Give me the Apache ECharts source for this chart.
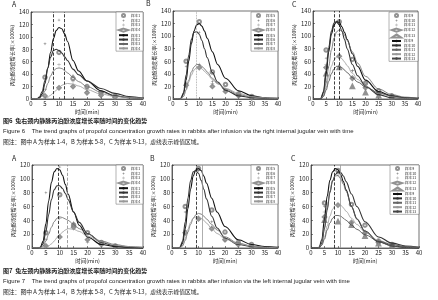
<!DOCTYPE html>
<html>
<head>
<meta charset="utf-8">
<script src="https://cdn.jsdelivr.net/npm/echarts@6/dist/echarts.min.js"></script>
<style>
  html, body { margin: 0; padding: 0; background: #fff; }
  #chart-container { width: 438px; height: 300px; }
</style>
</head>
<body>
<div id="chart-container"></div>
<script>
var fitTimes = [0, 2, 3, 4, 5, 6, 7, 8, 9, 10, 11, 12, 13, 15, 17, 20, 25, 30, 35, 40];

// Figure 6 (right jugular vein) - fitted curves
var f6A1 = [0, 0, 2, 8, 25, 50, 75, 97, 110, 115, 113, 105, 93, 62, 45, 29, 13, 5, 2, 1];
var f6A2 = [0, 0, 3, 12, 30, 50, 67, 78, 80, 78, 74, 68, 62, 48, 39, 29, 17, 9, 4, 1];
var f6A3 = [0, 0, 1, 5, 13, 25, 37, 45, 49, 50, 49, 46, 42, 35, 28, 20, 11, 5, 2, 1];
var f6A4 = [0, 0, 0, 0, 1, 3, 6, 10, 14, 18, 22, 24, 25, 24, 21, 15, 8, 4, 2, 1];
var f6B1 = [0, 0, 1, 8, 30, 60, 88, 108, 118, 120, 116, 108, 97, 75, 55, 33, 13, 5, 2, 1];
var f6B2 = [0, 0, 1, 10, 38, 70, 95, 106, 107, 103, 93, 80, 66, 42, 27, 14, 5, 2, 1, 0];
var f6B3 = [0, 0, 0, 4, 15, 30, 43, 51, 55, 55, 52, 48, 43, 33, 25, 16, 7, 3, 1, 0];
var f6B4 = [0, 0, 0, 4, 14, 27, 38, 46, 50, 50, 48, 44, 40, 31, 24, 17, 9, 4, 2, 1];
var f6C1 = [0, 0, 1, 10, 40, 75, 103, 118, 123, 122, 115, 106, 95, 72, 52, 30, 12, 5, 2, 1];
var f6C2 = [0, 0, 1, 12, 45, 82, 108, 121, 123, 118, 108, 95, 80, 55, 37, 20, 7, 2, 1, 0];
var f6C3 = [0, 0, 0, 6, 25, 52, 78, 97, 107, 110, 108, 102, 93, 75, 57, 36, 16, 7, 3, 1];
var f6C4 = [0, 0, 0, 5, 18, 36, 52, 62, 67, 67, 64, 59, 53, 41, 31, 20, 9, 4, 1, 0];
var f6C5 = [0, 0, 0, 4, 14, 28, 40, 48, 52, 52, 50, 46, 42, 34, 27, 19, 10, 5, 2, 1];

// Figure 7 (left jugular vein) - fitted curves
var f7A1 = [0, 0, 1, 10, 35, 68, 95, 110, 115, 113, 105, 92, 78, 52, 33, 16, 5, 2, 1, 0];
var f7A2 = [0, 0, 1, 6, 24, 48, 70, 84, 90, 90, 86, 79, 70, 52, 37, 21, 8, 3, 1, 0];
var f7A3 = [0, 0, 0, 3, 10, 20, 30, 38, 43, 45, 44, 42, 40, 34, 28, 20, 10, 5, 2, 1];
var f7A4 = [0, 0, 0, 0, 1, 3, 6, 10, 15, 19, 23, 26, 28, 27, 24, 17, 9, 4, 2, 1];
var f7B1 = [0, 0, 1, 7, 28, 57, 85, 104, 113, 115, 112, 104, 94, 72, 52, 31, 12, 5, 2, 1];
var f7B2 = [0, 0, 1, 10, 38, 72, 97, 110, 112, 108, 98, 85, 71, 46, 29, 14, 5, 2, 1, 0];
var f7B3 = [0, 0, 0, 3, 11, 23, 34, 43, 48, 50, 49, 46, 42, 34, 26, 16, 7, 3, 1, 0];
var f7B4 = [0, 0, 0, 4, 14, 27, 37, 43, 45, 45, 43, 40, 36, 28, 21, 13, 6, 3, 1, 0];
var f7C1 = [0, 0, 1, 12, 42, 75, 98, 110, 115, 113, 106, 96, 84, 60, 42, 24, 9, 3, 1, 0];
var f7C2 = [0, 0, 1, 7, 28, 55, 80, 97, 106, 110, 109, 104, 96, 78, 60, 38, 16, 7, 3, 1];
var f7C3 = [0, 0, 1, 8, 30, 58, 82, 98, 104, 105, 100, 92, 82, 60, 42, 24, 9, 3, 1, 0];
var f7C4 = [0, 0, 0, 5, 16, 32, 46, 56, 62, 63, 62, 58, 53, 43, 34, 23, 11, 5, 2, 1];
var f7C5 = [0, 0, 0, 4, 13, 26, 36, 43, 47, 47, 46, 43, 40, 33, 27, 19, 10, 5, 2, 1];

// measured points [time, growth rate]
var p6A1 = [[5, 35], [10, 75], [15, 33], [20, 20], [25, 10], [30, 5]];
var p6A2 = [[5, 89], [10, 127], [15, 38], [20, 12], [25, 5], [30, 3]];
var p6A3 = [[5, 15], [10, 55], [15, 28], [20, 16], [25, 8], [30, 4]];
var p6A4 = [[5, 5], [10, 18], [15, 20], [20, 10], [25, 6], [30, 3]];
var p6B1 = [[5, 60], [10, 123], [15, 43], [20, 23], [25, 8], [30, 4]];
var p6B2 = [[5, 52], [10, 106], [15, 28], [20, 12], [25, 5], [30, 3]];
var p6B3 = [[5, 25], [10, 55], [15, 25], [20, 14], [25, 6], [30, 3]];
var p6B4 = [[5, 22], [10, 50], [15, 20], [20, 12], [25, 5], [30, 2]];
var p6C1 = [[5, 78], [10, 123], [15, 63], [20, 25], [25, 13], [30, 5]];
var p6C2 = [[5, 65], [9, 123], [15, 45], [20, 18], [25, 8], [30, 3]];
var p6C3 = [[5, 55], [10, 103], [15, 45], [20, 25], [25, 10], [30, 5]];
var p6C4 = [[5, 50], [10, 68], [15, 33], [20, 18], [25, 8], [30, 3]];
var p6C5 = [[5, 40], [10, 50], [15, 20], [20, 10], [25, 5], [30, 3]];
var p7A1 = [[5, 22], [10, 77], [15, 33], [20, 22], [25, 8], [30, 3]];
var p7A2 = [[5, 80], [10, 117], [15, 37], [20, 13], [25, 5], [30, 2]];
var p7A3 = [[5, 12], [10, 43], [15, 35], [20, 8], [25, 6], [30, 3]];
var p7A4 = [[5, 3], [10, 16], [15, 30], [20, 12], [25, 5], [30, 2]];
var p7B1 = [[5, 60], [10, 115], [15, 55], [20, 23], [25, 8], [30, 5]];
var p7B2 = [[5, 52], [10, 112], [15, 38], [20, 13], [25, 5], [30, 3]];
var p7B3 = [[5, 25], [10, 45], [15, 30], [20, 10], [25, 6], [30, 3]];
var p7B4 = [[5, 22], [10, 42], [15, 28], [20, 12], [25, 5], [30, 2]];
var p7C1 = [[5, 65], [10, 112], [15, 63], [20, 33], [25, 10], [30, 5]];
var p7C2 = [[5, 60], [10, 108], [15, 37], [20, 22], [25, 8], [30, 3]];
var p7C3 = [[5, 52], [10, 105], [15, 33], [20, 17], [25, 10], [30, 5]];
var p7C4 = [[5, 45], [10, 62], [15, 37], [20, 22], [25, 8], [30, 3]];
var p7C5 = [[5, 40], [10, 38], [15, 33], [20, 17], [25, 6], [30, 3]];

// sample names per panel
var namesA = ['样本1', '样本2', '样本3', '样本4'];
var namesB = ['样本5', '样本6', '样本7', '样本8'];
var namesC = ['样本9', '样本10', '样本11', '样本12', '样本13'];

// peak region (dashed lines), in min
var peaks6A = [8, 12];
var peaks6B = [9];
var peaks6C = [8, 10];
var peaks7A = [9.3, 12.7];
var peaks7B = [9, 11.5];
var peaks7C = [8.6, 10.7];

var yName = '丙泊酚浓度增长率(×100%)';
var xName = '时间(min)';

var markers = [
  'emptyCircle',
  'path://M0,-1L0.25,-0.25L1,0L0.25,0.25L0,1L-0.25,0.25L-1,0L-0.25,-0.25Z',
  'path://M-0.12,-1H0.12V-0.12H1V0.12H0.12V1H-0.12V0.12H-1V-0.12H-0.12Z',
  'emptyDiamond',
  'emptyTriangle'
];
var lineColors = ['#111', '#333', '#666', '#999', '#444'];

var panels = [
  { grid: { left: 31, top: 12, width: 112, height: 87 }, yMax: 140, names: namesA,
    fits: [f6A1, f6A2, f6A3, f6A4], pts: [p6A1, p6A2, p6A3, p6A4], peaks: peaks6A,
    peakStyle: [['#111', 'dashed'], ['#111', 'dashed']], legendPos: { right: 295, top: 12 } },
  { grid: { left: 173, top: 11, width: 105, height: 88 }, yMax: 140, names: namesB,
    fits: [f6B1, f6B2, f6B3, f6B4], pts: [p6B1, p6B2, p6B3, p6B4], peaks: peaks6B,
    peakStyle: [['#999', 'dotted']], legendPos: { right: 160, top: 12 } },
  { grid: { left: 313, top: 11, width: 105, height: 88 }, yMax: 140, names: namesC,
    fits: [f6C1, f6C2, f6C3, f6C4, f6C5], pts: [p6C1, p6C2, p6C3, p6C4, p6C5], peaks: peaks6C,
    peakStyle: [['#111', 'dashed'], ['#111', 'dashed']], legendPos: { right: 20, top: 12 } },
  { grid: { left: 32, top: 165, width: 111, height: 83 }, yMax: 120, names: namesA,
    fits: [f7A1, f7A2, f7A3, f7A4], pts: [p7A1, p7A2, p7A3, p7A4], peaks: peaks7A,
    peakStyle: [['#111', 'dashed'], ['#888', 'dashed']], legendPos: { right: 295, top: 165 } },
  { grid: { left: 172, top: 165, width: 106, height: 83 }, yMax: 120, names: namesB,
    fits: [f7B1, f7B2, f7B3, f7B4], pts: [p7B1, p7B2, p7B3, p7B4], peaks: peaks7B,
    peakStyle: [['#111', 'dashed'], ['#999', 'solid']], legendPos: { right: 160, top: 165 } },
  { grid: { left: 311, top: 165, width: 108, height: 83 }, yMax: 120, names: namesC,
    fits: [f7C1, f7C2, f7C3, f7C4, f7C5], pts: [p7C1, p7C2, p7C3, p7C4, p7C5], peaks: peaks7C,
    peakStyle: [['#111', 'dashed'], ['#999', 'solid']], legendPos: { right: 19, top: 165 } }
];

var grids = [], xAxes = [], yAxes = [], series = [], legends = [];

panels.forEach(function (p, i) {
  grids.push(Object.assign({ show: true, borderColor: '#333', borderWidth: 0.7 }, p.grid));
  xAxes.push({
    gridIndex: i, type: 'value', min: 0, max: 40, interval: 5,
    name: xName, nameLocation: 'middle', nameGap: 10,
    nameTextStyle: { fontSize: 5.5, color: '#222' },
    axisLine: { lineStyle: { color: '#333', width: 0.7 } },
    axisTick: { inside: true, length: 2, lineStyle: { color: '#333', width: 0.6 } },
    axisLabel: { fontSize: 6, color: '#222', margin: 2 },
    splitLine: { show: false }
  });
  yAxes.push({
    gridIndex: i, type: 'value', min: 0, max: p.yMax, interval: 20,
    name: yName, nameLocation: 'middle', nameGap: 16, nameRotate: 90,
    nameTextStyle: { fontSize: 5, color: '#222' },
    axisLine: { lineStyle: { color: '#333', width: 0.7 } },
    axisTick: { inside: true, length: 2, lineStyle: { color: '#333', width: 0.6 } },
    axisLabel: { fontSize: 6, color: '#222', margin: 2 },
    splitLine: { show: false }
  });

  var legendNames = [];
  p.pts.forEach(function (arr, k) {
    legendNames.push(p.names[k]);
    series.push({
      type: 'scatter', name: p.names[k], xAxisIndex: i, yAxisIndex: i,
      data: arr, symbol: markers[k % markers.length], symbolSize: 3.5,
      itemStyle: { color: '#777', borderWidth: 0.6 }, silent: true
    });
  });
  p.fits.forEach(function (arr, k) {
    legendNames.push(p.names[k] + ' ');
    series.push({
      type: 'line', name: p.names[k] + ' ', xAxisIndex: i, yAxisIndex: i,
      data: fitTimes.map(function (t, j) { return [t, arr[j]]; }),
      smooth: 0.35, smoothMonotone: 'x', symbol: 'none', showSymbol: false,
      lineStyle: { color: lineColors[k], width: k < 2 ? 1.1 : 0.8 },
      itemStyle: { color: lineColors[k] }, silent: true
    });
  });
  series.push({
    type: 'line', xAxisIndex: i, yAxisIndex: i, data: [], silent: true,
    markLine: {
      symbol: 'none', silent: true, animation: false, label: { show: false },
      data: p.peaks.map(function (x, k) {
        return { xAxis: x, lineStyle: { color: p.peakStyle[k][0], type: p.peakStyle[k][1], width: 0.8 } };
      })
    }
  });

  legends.push(Object.assign({
    orient: 'vertical', data: legendNames, padding: [1, 2, 1, 2], itemGap: 0.8,
    itemWidth: 9, itemHeight: 3, selectedMode: false,
    backgroundColor: '#fff', borderColor: '#666', borderWidth: 0.5,
    textStyle: { fontSize: 3.6, color: '#333', padding: [0, 0, 0, -2] }
  }, p.legendPos));
});

function txt(x, y, s, size, extra) {
  return {
    type: 'text', left: x, top: y,
    style: Object.assign({ text: s, fontSize: size, fill: '#222', fontFamily: 'Noto Sans CJK SC, sans-serif' }, extra || {})
  };
}

var graphics = [
  txt(12, 1, 'A', 7), txt(146, 0, 'B', 7), txt(292, 1, 'C', 7),
  txt(12, 155, 'A', 7), txt(150, 155, 'B', 7), txt(291, 155, 'C', 7),
  txt(3, 118, '图6  兔右颈内静脉丙泊酚浓度增长率随时间的变化趋势', 6, { fontWeight: 'bold' }),
  txt(3, 128, 'Figure 6    The trend graphs of propofol concentration growth rates in rabbits after infusion via the right internal jugular vein with time', 6, { fontFamily: 'Liberation Sans, Arial, sans-serif' }),
  txt(3, 139, '图注：图中 A 为样本 1-4，B 为样本 5-8，C 为样本 9-13，虚线表示峰值区域。', 5.8),
  txt(3, 268, '图7  兔左颈内静脉丙泊酚浓度增长率随时间的变化趋势', 6, { fontWeight: 'bold' }),
  txt(3, 278, 'Figure 7    The trend graphs of propofol concentration growth rates in rabbits after infusion via the left internal jugular vein with time', 6, { fontFamily: 'Liberation Sans, Arial, sans-serif' }),
  txt(3, 289, '图注：图中 A 为样本 1-4，B 为样本 5-8，C 为样本 9-13，虚线表示峰值区域。', 5.8)
];

var dom = document.getElementById('chart-container');
var myChart = echarts.init(dom, null, { renderer: 'canvas' });
myChart.setOption({
  animation: false,
  backgroundColor: '#fff',
  textStyle: { fontFamily: 'Noto Sans CJK SC, Liberation Sans, sans-serif' },
  grid: grids,
  xAxis: xAxes,
  yAxis: yAxes,
  legend: legends,
  graphic: graphics,
  series: series
});
</script>
</body>
</html>
